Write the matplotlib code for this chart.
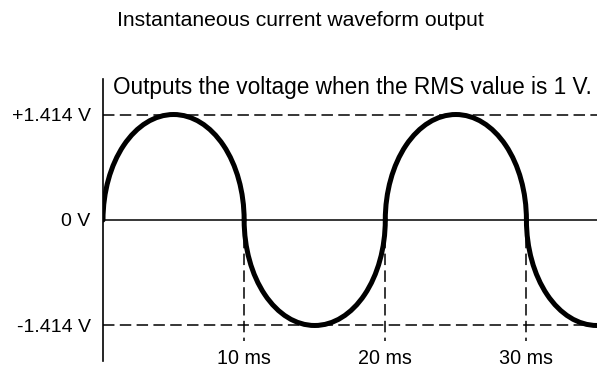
import matplotlib.pyplot as plt
from matplotlib.patches import Arc

plt.rcParams['font.family'] = ['Liberation Sans', 'DejaVu Sans']

# waveform: half cycles as elliptical arcs (centre in ms, polarity)
half_centres = [5, 15, 25, 35]
half_signs = [1, -1, 1, -1]
half_width = 10
peak = 1.414
t_end = 35

time_ticks = [10, 20, 30]
time_labels = ['10 ms', '20 ms', '30 ms']
volt_ticks = [1.414, 0, -1.414]
volt_labels = ['+1.414 V', '0 V', '-1.414 V']

fig = plt.figure(figsize=(6.12, 3.74), dpi=100)
ax = fig.add_axes([103 / 612, 13 / 374, 494 / 612, 282 / 374])
ax.set_xlim(0, t_end)
ax.set_ylim(-1.89, 1.89)

for s in ['top', 'right', 'bottom']:
    ax.spines[s].set_visible(False)
ax.spines['left'].set_linewidth(1.2)
ax.set_xticks([])
ax.set_yticks(volt_ticks)
ax.set_yticklabels(volt_labels, fontsize=14)
ax.tick_params(axis='y', length=0, pad=9)

dash = (0, (7.5, 3.5))
ax.axhline(0, color='black', lw=1.1)
for v in [peak, -peak]:
    ax.axhline(v, color='black', lw=1.1, linestyle=dash)
for t in time_ticks:
    ax.plot([t, t], [0, -1.62], color='black', lw=1.1, linestyle=dash)

for c, sgn in zip(half_centres, half_signs):
    t1, t2 = (0, 180) if sgn > 0 else (180, 360)
    if c + half_width / 2 > t_end:
        t2 = 270
    ax.add_patch(Arc((c, 0), half_width, 2 * peak, theta1=t1, theta2=t2,
                     color='black', lw=3.6, capstyle='round', zorder=5))

for t, lab in zip(time_ticks, time_labels):
    ax.text(t, -1.85, lab, ha='center', va='center', fontsize=14.2)

ax.text(0.7, 1.77, 'Outputs the voltage when the RMS value is 1 V.',
        ha='left', va='center', fontsize=16.3)
fig.text(300 / 612, 1 - 20 / 374, 'Instantaneous current waveform output',
         ha='center', va='center', fontsize=15.2)

fig.savefig('out.png', dpi=100)
